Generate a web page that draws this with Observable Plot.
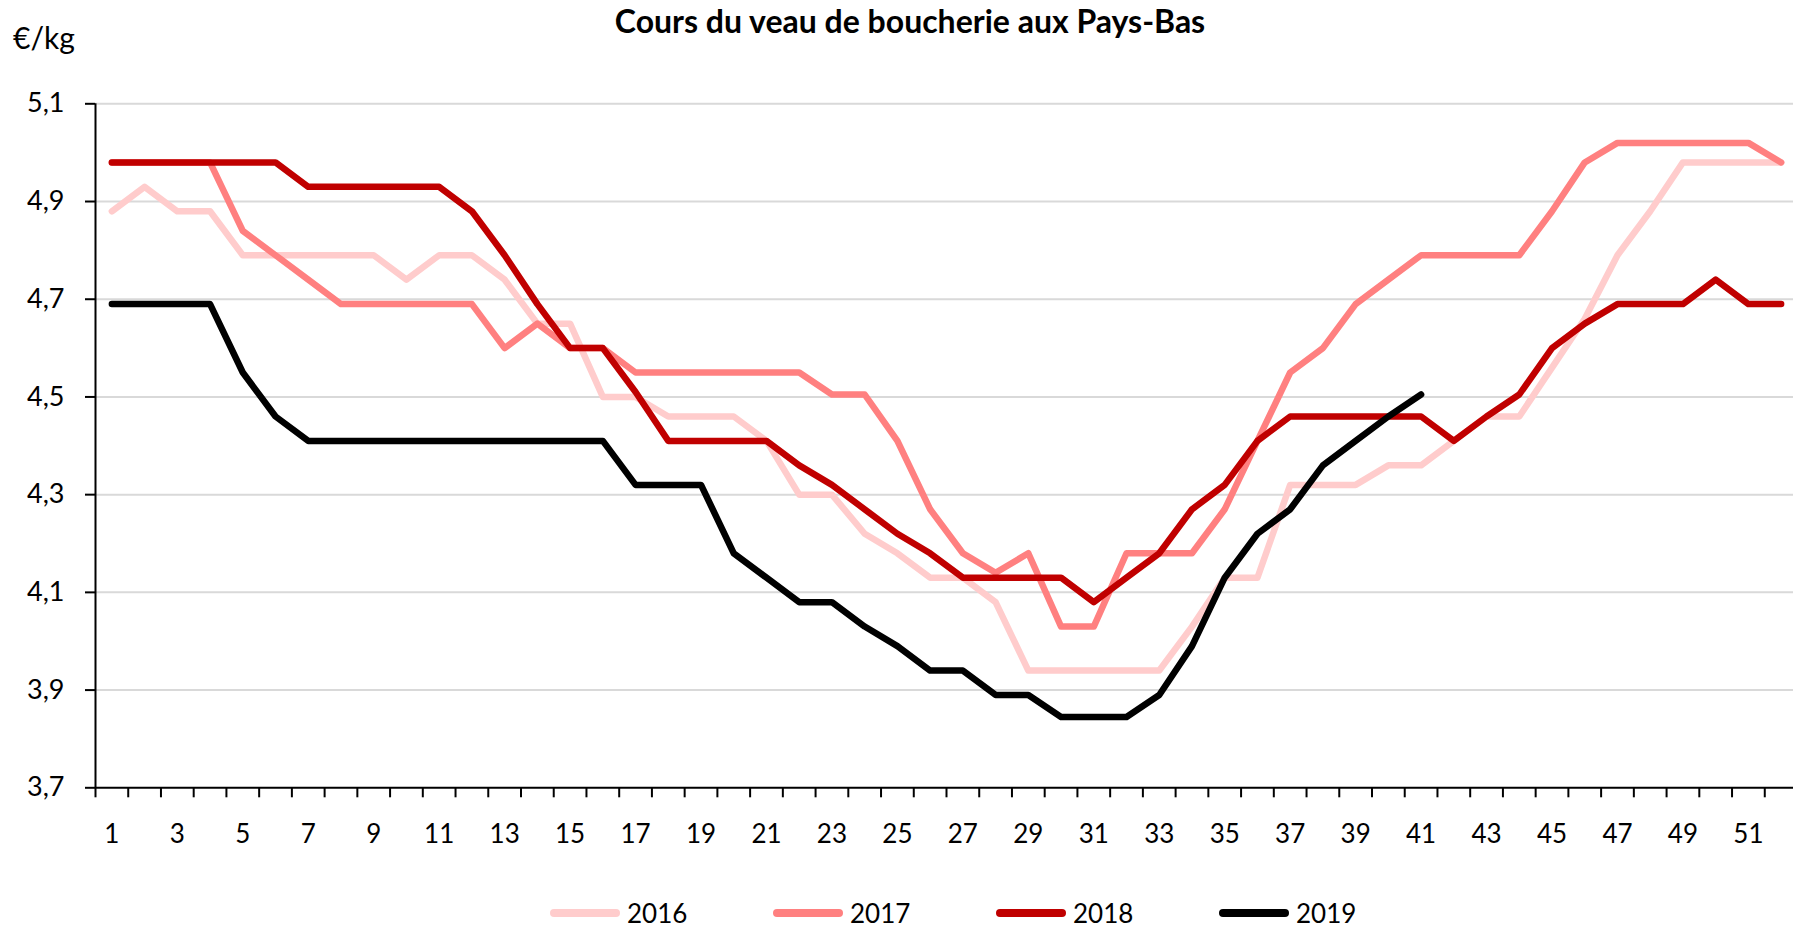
<!DOCTYPE html>
<html>
<head>
<meta charset="utf-8">
<script src="https://cdn.jsdelivr.net/npm/d3@7"></script>
<script src="https://cdn.jsdelivr.net/npm/@observablehq/plot@0.6"></script>
<style>
  body { margin: 0; background: #fff; font-family: Lato, sans-serif; color: #000; }
  #wrap { position: relative; width: 1793px; height: 929px; overflow: hidden; background: #fff; }
  #head { position: relative; height: 60px; }
  #title { position: absolute; left: 910px; top: 5px; transform: translateX(-50%); font-weight: bold; font-size: 32px; line-height: 1; white-space: nowrap; }
  #unit { position: absolute; left: 13px; top: 22px; font-size: 30px; line-height: 1; white-space: nowrap; }
  #chart svg { display: block; overflow: visible; }
  #legend { height: 46px; display: flex; align-items: center; padding-left: 550px; }
  .item { width: 223px; flex: none; display: flex; align-items: center; }
  .sw { width: 70px; height: 8px; border-radius: 4px; margin-right: 7px; flex: none; }
  .lab { font-size: 26px; }
</style>
</head>
<body>
<div id="wrap">
  <div id="head">
    <div id="unit">€/kg</div>
    <div id="title">Cours du veau de boucherie aux Pays-Bas</div>
  </div>
  <div id="chart"></div>
  <div id="legend"></div>
</div>
<script>
const years = ["2016", "2017", "2018", "2019"];
const colors = ["#FFCCCC", "#FF8080", "#C00000", "#000000"];

const w2016 = [4.88,4.93,4.88,4.88,4.79,4.79,4.79,4.79,4.79,4.74,4.79,4.79,4.74,4.65,4.65,4.50,4.50,4.46,4.46,4.46,4.41,4.30,4.30,4.22,4.18,4.13,4.13,4.08,3.94,3.94,3.94,3.94,3.94,4.03,4.13,4.13,4.32,4.32,4.32,4.36,4.36,4.41,4.46,4.46,4.56,4.66,4.79,4.88,4.98,4.98,4.98,4.98];
const w2017 = [4.98,4.98,4.98,4.98,4.84,4.79,4.74,4.69,4.69,4.69,4.69,4.69,4.60,4.65,4.60,4.60,4.55,4.55,4.55,4.55,4.55,4.55,4.505,4.505,4.41,4.27,4.18,4.14,4.18,4.03,4.03,4.18,4.18,4.18,4.27,4.41,4.55,4.60,4.69,4.74,4.79,4.79,4.79,4.79,4.88,4.98,5.02,5.02,5.02,5.02,5.02,4.98];
const w2018 = [4.98,4.98,4.98,4.98,4.98,4.98,4.93,4.93,4.93,4.93,4.93,4.88,4.79,4.69,4.60,4.60,4.51,4.41,4.41,4.41,4.41,4.36,4.32,4.27,4.22,4.18,4.13,4.13,4.13,4.13,4.08,4.13,4.18,4.27,4.32,4.41,4.46,4.46,4.46,4.46,4.46,4.41,4.46,4.505,4.60,4.65,4.69,4.69,4.69,4.74,4.69,4.69];
const w2019 = [4.69,4.69,4.69,4.69,4.55,4.46,4.41,4.41,4.41,4.41,4.41,4.41,4.41,4.41,4.41,4.41,4.32,4.32,4.32,4.18,4.13,4.08,4.08,4.03,3.99,3.94,3.94,3.89,3.89,3.845,3.845,3.845,3.89,3.99,4.13,4.22,4.27,4.36,4.41,4.46,4.505];

const yTicks = [3.7, 3.9, 4.1, 4.3, 4.5, 4.7, 4.9, 5.1];
const xLabels = d3.range(1, 53, 2);          // 1, 3, ..., 51
const xTickPos = d3.range(0, 53).map(i => i + 0.5); // category boundaries

const series = [w2016, w2017, w2018, w2019];
const rows = [];
series.forEach((vals, i) => vals.forEach((v, j) => rows.push({year: years[i], week: j + 1, value: v})));

const fmt = d => d.toFixed(1).replace(".", ",");

const chart = Plot.plot({
  width: 1793,
  height: 830,
  marginTop: 43.3,
  marginBottom: 102.7,
  marginLeft: 95,
  marginRight: 0,
  style: {fontFamily: "Lato, sans-serif", fontSize: "26px", color: "#000", background: "#fff"},
  x: {domain: [0.5, 52.5], range: [95, 1797], label: null},
  y: {domain: [3.7, 5.1], label: null},
  color: {type: "ordinal", domain: years, range: colors},
  marks: [
    Plot.gridY(yTicks.filter(v => v > 3.7), {stroke: "#D9D9D9", strokeOpacity: 1, strokeWidth: 2}),
    Plot.ruleX([0.5], {y1: 3.7, y2: 5.1, stroke: "#000", strokeWidth: 2}),
    Plot.ruleY([3.7], {stroke: "#000", strokeWidth: 2}),
    Plot.axisY(yTicks, {tickSize: 10, tickPadding: 21, tickFormat: fmt, fontSize: 27, strokeWidth: 2, label: null}),
    Plot.axisX(xTickPos, {tickSize: 10, tickFormat: () => "", strokeWidth: 2, label: null}),
    Plot.axisX(xLabels, {tickSize: 0, tickPadding: 37, fontSize: 26, tickFormat: d => String(d), label: null}),
    Plot.line(rows, {x: "week", y: "value", z: "year", stroke: "year", strokeWidth: 6.5, strokeLinejoin: "round", strokeLinecap: "round"})
  ]
});
document.getElementById("chart").appendChild(chart);

const legend = document.getElementById("legend");
years.forEach((y, i) => {
  const item = document.createElement("div");
  item.className = "item";
  const sw = document.createElement("span");
  sw.className = "sw";
  sw.style.background = colors[i];
  const lab = document.createElement("span");
  lab.className = "lab";
  lab.textContent = y;
  item.appendChild(sw);
  item.appendChild(lab);
  legend.appendChild(item);
});
</script>
</body>
</html>
